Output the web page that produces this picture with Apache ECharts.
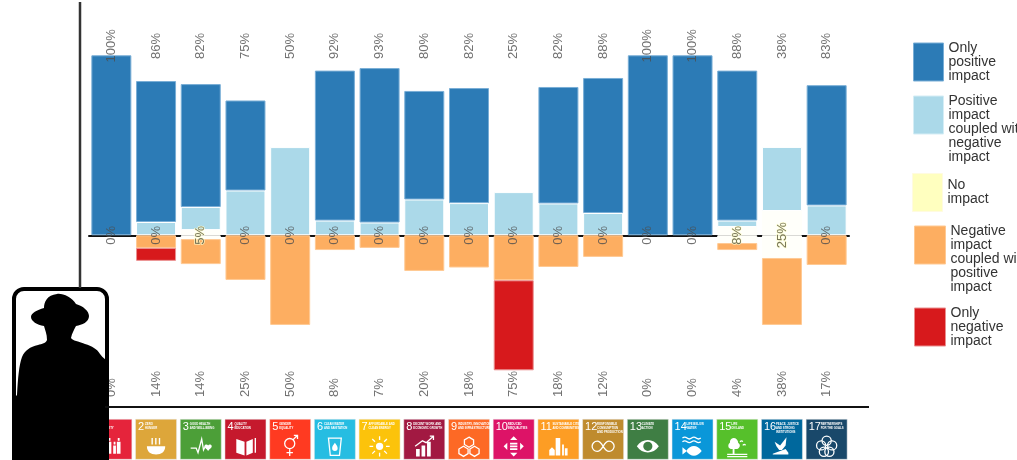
<!DOCTYPE html>
<html>
<head>
<meta charset="utf-8">
<style>html,body{margin:0;padding:0;background:#fff;overflow:hidden}#c{width:1017px;height:460px}</style>
<script src="https://cdn.jsdelivr.net/npm/echarts@6/dist/echarts.min.js"></script>
</head>
<body>
<div id="c"></div>
<script>
const goals = ['1','2','3','4','5','6','7','8','9','10','11','12','13','14','15','16','17'];
const onlyPositive = [100,78.3,68.3,50,null,83.3,85.8,60.3,63.9,null,64.7,75,100,100,83.3,null,66.8];
const coupledPositive = [null,7.4,12.8,24.9,49,8.2,7.1,19.9,17.9,24,17.7,12.4,null,null,3.6,35.6,16.6];
const noImpactUp = [null,null,2.9,null,null,null,null,null,null,null,null,null,null,null,4.6,13.5,null];
const noImpactDown = [null,null,-2.1,null,null,null,null,null,null,null,null,null,null,null,-4.3,-12.6,null];
const coupledNegative = [null,-7,-13.9,-24.8,-49.8,-8.2,-7,-19.8,-17.9,-25,-17.6,-12,null,null,-3.9,-37.2,-16.5];
const onlyNegative = [null,-7.2,null,null,null,null,null,null,null,-50,null,null,null,null,null,null,null];
const positiveLabels = ['100%','86%','82%','75%','50%','92%','93%','80%','82%','25%','82%','88%','100%','100%','88%','38%','83%'];
const noImpactLabels = ['0%','0%','5%','0%','0%','0%','0%','0%','0%','0%','0%','0%','0%','0%','8%','25%','0%'];
const negativeLabels = ['0%','14%','14%','25%','50%','8%','7%','20%','18%','75%','18%','12%','0%','0%','4%','38%','17%'];
const goalTitles = [['NO','POVERTY'],['ZERO','HUNGER'],['GOOD HEALTH','AND WELL-BEING'],['QUALITY','EDUCATION'],['GENDER','EQUALITY'],['CLEAN WATER','AND SANITATION'],['AFFORDABLE AND','CLEAN ENERGY'],['DECENT WORK AND','ECONOMIC GROWTH'],['INDUSTRY, INNOVATION','AND INFRASTRUCTURE'],['REDUCED','INEQUALITIES'],['SUSTAINABLE CITIES','AND COMMUNITIES'],['RESPONSIBLE','CONSUMPTION','AND PRODUCTION'],['CLIMATE','ACTION'],['LIFE BELOW','WATER'],['LIFE','ON LAND'],['PEACE, JUSTICE','AND STRONG','INSTITUTIONS'],['PARTNERSHIPS','FOR THE GOALS']];
const goalColors = ['#e5243b','#dda63a','#4c9f38','#c5192d','#ff3a21','#26bde2','#fcc30b','#a21942','#fd6925','#dd1367','#fd9d24','#bf8b2e','#3f7e44','#0a97d9','#56c02b','#00689d','#19486a'];
const iconAnchor = 'M0 0 M24 24 ';
const iconFill = [
 'M3 9h3v11H3z M8 7h4v13H8z M14 11h3v9h-3z M18 7h4v13h-4z M3.5 5h2v3h-2z M9 3h2v3H9z M14.5 7h2v3h-2z M19 3h2v3h-2z',
 'M2 12h20c0 6-4 9-10 9S2 18 2 12z M7 3h1.5v7H7z M11 3h1.5v7H11z M15 3h1.5v7H15z',
 'M20 11c1-1.5 4-1 4 1 0 2-2.5 3-4 5-1.5-2-4-3-4-5 0-2 3-2.5 4-1z',
 'M2 4l9 3v15l-9-3z M13 7l7-3v15l-7 3z M22 3h1.5v16H22z',
 '',
 'M12 8c2 3 3 4 3 6a3 3 0 0 1-6 0c0-2 1-3 3-6z',
 'M16 12a4 4 0 1 1-8 0a4 4 0 1 1 8 0z',
 'M3 15h4v8H3z M9 11h4v12H9z M15 7h4v16h-4z',
 '',
 'M12 1l4 4H8z M12 23l-4-4h8z M1 12l4-4v8z M23 12l-4 4V8z M8 8h8v2H8z M8 11h8v2H8z M8 14h8v2H8z',
 'M2 22v-6l3-3 3 3v6z M9 22V3h5v19z M16 22V10h2v12z M19 22v-8h3v8z',
 '',
 'M0 12c6-9 18-9 24 0-6 9-18 9-24 0z M12 7a5 5 0 1 0 0 10a5 5 0 1 0 0-10z',
 'M5 17c5-7 12-7 17 0-5 7-12 7-17 0z M6 17l-5-4v8z',
 'M8 3a5 5 0 0 1 5 5 4 4 0 0 1-1 7H5a4 4 0 0 1-1-7 5 5 0 0 1 4-5z M7 15h2v5H7z M1 20h22v1.5H1z M1 22.5h22V24H1z',
 'M4 7l6 4 7-9-1 9-4 5H9l-3-4z M2 20l14-5 3 4v2H2z',
 ''
];
const iconStroke = [
 '','','M1 14h6l2 5 4-15 2 12 2-4h1','',
 'M17 9a5.5 5.5 0 1 1-11 0a5.5 5.5 0 1 1 11 0z M11.5 14.5v8 M8 19h7 M15 5l5-5 M16 0h4v4',
 'M5 3h14l-2 19H7z',
 'M12 1v4 M12 19v4 M1 12h4 M19 12h4 M4 4l3 3 M17 17l3 3 M20 4l-3 3 M7 17l-3 3',
 'M2 12L10 6l4 2 8-7 M18 1h4v4',
 'M12 2l5 3v5l-5 3-5-3V5z M6 12l5 3v5l-5 3-5-3v-5z M18 12l5 3v5l-5 3-5-3v-5z',
 '','',
 'M12 12c-3-5-5-6-7-6a6 6 0 0 0 0 12c2 0 4-1 7-6s5-6 7-6a6 6 0 0 1 0 12c-2 0-4-1-7-6z',
 '',
 'M1 3q2.5-2 5 0t5 0 5 0 5 0 M1 7q2.5-2 5 0t5 0 5 0 5 0',
 'M15 7q2-2 3 0 M18 11q2-2 3 0',
 '',
 'M17 6a5 5 0 1 1-10 0a5 5 0 1 1 10 0z M23 11a5 5 0 1 1-10 0a5 5 0 1 1 10 0z M11 11a5 5 0 1 1-10 0a5 5 0 1 1 10 0z M20 18a5 5 0 1 1-10 0a5 5 0 1 1 10 0z M14 18a5 5 0 1 1-10 0a5 5 0 1 1 10 0z'
];
const legendEntries = [
 {name:'Only positive impact', lines:['Only','positive','impact'], left:913, top:41, w:30, color:'#2c7bb6', border:'#79aed6'},
 {name:'Positive impact coupled with negative impact', lines:[' ',' ','Positive','impact','coupled with','negative','impact'], left:913, top:66, w:30, color:'#abd9e9', border:'#d5edf5'},
 {name:'No impact', lines:['No','impact'], left:912, top:173, w:30, color:'#ffffbf', border:'#fffbe0'},
 {name:'Negative impact coupled with positive impact', lines:[' ',' ','Negative','impact','coupled with','positive','impact'], left:914, top:196, w:31, color:'#fdae61', border:'#ffc993'},
 {name:'Only negative impact', lines:['Only','negative','impact'], left:914, top:306, w:31, color:'#d7191c', border:'#ea8f8f'}
];
const silhouette = 'M57 294C62 293 72 297 76 304C83 306 89 311 89 316C89 322 82 325 76 326C74 330 72 333 71 338C73 341 78 341 85 344C92 346 97 349 100 354C103 358 106 360 109 362L109 460L12 460L12 400L17 395C18 378 19 365 22 357C25 350 30 347 38 345C42 344 46 343 47 340C47 334 45 330 44 326C37 325 31 321 31 317C31 313 37 310 44 308C44 302 47 295 57 294Z';
const FONT = '"Liberation Sans", Arial, sans-serif';

function barSeries(name, data, color, border) {
  return {
    name, type:'bar', stack:'total', data, barWidth:40,
    itemStyle:{color, borderColor:border, borderWidth:1}
  };
}
function labelSeries(name, texts, value, align, styleFor) {
  return {
    name, type:'scatter', z:5, symbolSize:1, silent:true, itemStyle:{color:'rgba(0,0,0,0)'},
    data: texts.map((t,i)=>({
      value:[goals[i], value],
      label:Object.assign({show:true, position:'inside', formatter:t, rotate:90, align, verticalAlign:'middle',
        fontFamily:FONT, fontSize:13, color:'#4d4d4d'}, styleFor?styleFor(t):{})
    }))
  };
}
const option = {
  animation:false,
  backgroundColor:'#fff',
  tooltip:{show:false},
  grid:{left:89, width:760, top:28.3, height:369, containLabel:false},
  xAxis:{type:'category', data:goals, axisLine:{show:true, onZero:true, lineStyle:{color:'#111', width:2}},
    axisTick:{show:false}, axisLabel:{show:false}, splitLine:{show:false}},
  yAxis:{type:'value', min:-90, max:115, show:false},
  legend: legendEntries.map(e=>({
    data:[e.name], left:e.left, top:e.top, padding:0, orient:'vertical', icon:'rect',
    itemWidth:e.w, itemHeight:38, itemGap:0, selectedMode:false,
    formatter:()=>e.lines.join('\n'),
    textStyle:{fontFamily:FONT, fontSize:14, lineHeight:14, color:'#333'},
    itemStyle:{color:e.color, borderColor:e.border, borderWidth:1}
  })),
  series:[
    barSeries('No impact', noImpactUp, '#fffffa', '#fffffa'),
    barSeries('Positive impact coupled with negative impact', coupledPositive, '#abd9e9', '#ffffff'),
    barSeries('Only positive impact', onlyPositive, '#2c7bb6', '#79aed6'),
    barSeries('No impact', noImpactDown, '#fffffa', '#fffffa'),
    barSeries('Negative impact coupled with positive impact', coupledNegative, '#fdae61', '#ffc993'),
    barSeries('Only negative impact', onlyNegative, '#d7191c', '#ea8f8f'),
    labelSeries('Positive share', positiveLabels, 105.2, 'center'),
    labelSeries('No impact share', noImpactLabels, 0, 'center', t=> t==='0%' ? {} : {color:'#55533a', textBorderColor:'#ffffd0', textBorderWidth:1.5}),
    labelSeries('Negative share', negativeLabels, -89.8, 'left'),
    {
      name:'SDG icons', type:'custom', z:3, silent:true, clip:false,
      data:goals.map(g=>[g,-90]),
      renderItem(params, api){
        const i = params.dataIndex;
        const p = api.coord([goals[i], -90]);
        const x = p[0]-20.5, y = p[1]+22, s = 41;
        const children = [
          {type:'rect', shape:{x,y,width:s,height:s-1}, style:{fill:goalColors[i], stroke:'#e9e9e9', lineWidth:0.5}},
          {type:'text', style:{x:x+2.5, y:y+2, text:goals[i], fill:'#fff', font:'11px "Liberation Sans Narrow", '+FONT}}
        ];
        const numW = goals[i].length>1 ? 12 : 7;
        children.push({type:'text', style:{x:x+2.5+numW, y:y+3, text:goalTitles[i].join('\n'), fill:'#fff', lineHeight:3.8, font:'bold 2.8px '+FONT}});
        const box = {x:x+9.5, y:y+16, width:22, height:22, layout:'center'};
        if(iconFill[i]) children.push({type:'path', shape:Object.assign({pathData:iconAnchor+iconFill[i]},box), style:{fill:'#fff'}});
        if(iconStroke[i]) children.push({type:'path', shape:Object.assign({pathData:iconAnchor+iconStroke[i]},box), style:{fill:'none',stroke:'#fff',lineWidth:1.3}});
        return {type:'group', children};
      }
    },
    {
      name:'Avatar', type:'custom', z:20, silent:true, clip:false,
      data:[['1',-90]],
      renderItem(){
        return {type:'group', children:[
          {type:'rect', shape:{x:14,y:289,width:93,height:190,r:10}, style:{fill:'#fff',stroke:'#000',lineWidth:4}},
          {type:'path', shape:{pathData:silhouette}, style:{fill:'#000'}}
        ]};
      }
    }
  ],
  graphic:[
    {type:'line', z:50, shape:{x1:80,y1:2,x2:80,y2:288}, style:{stroke:'#333',lineWidth:2.5}},
    {type:'line', z:50, shape:{x1:105,y1:407,x2:869,y2:407}, style:{stroke:'#111',lineWidth:2}}
  ]
};
const chart = echarts.init(document.getElementById('c'), null, {renderer:'canvas', width:1017, height:460});
chart.setOption(option);
</script>
</body>
</html>
